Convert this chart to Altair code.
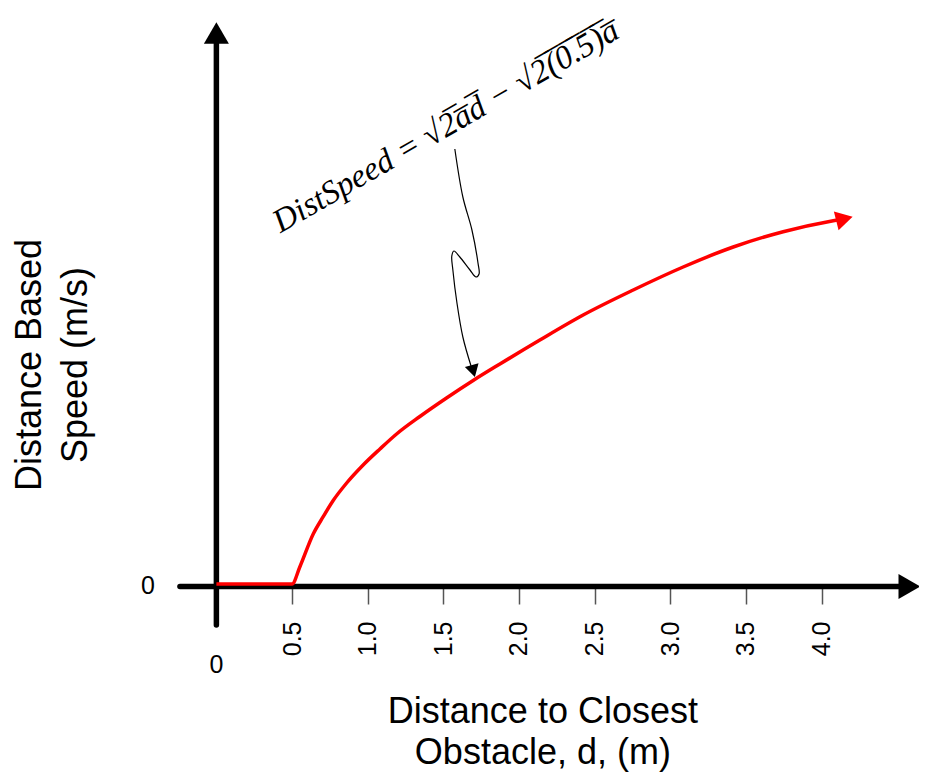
import altair as alt
import pandas as pd

# ---- data ----
# red curve: distance d (m) vs distance-based speed (arbitrary m/s units)
curve_d = [0.0, 0.5, 0.552, 0.640, 0.706, 0.772, 0.861, 0.970, 1.081, 1.191,
           1.345, 1.521, 1.697, 1.874, 2.138, 2.424, 2.755, 3.085, 3.416,
           3.746, 4.077, 4.150]
curve_v = [0.0, 0.0, 0.173, 0.500, 0.673, 0.835, 1.010, 1.190, 1.350, 1.500,
           1.675, 1.860, 2.035, 2.200, 2.440, 2.690, 2.940, 3.170, 3.370,
           3.523, 3.633, 3.652]

# x-axis tick values
tick_values = [0.5, 1.0, 1.5, 2.0, 2.5, 3.0, 3.5, 4.0]

# callout (squiggle leader) from the formula to the curve
callout_x = [1.576, 1.629, 1.689, 1.729, 1.736, 1.716, 1.676, 1.609, 1.570,
             1.556, 1.563, 1.590, 1.629, 1.683]
callout_y = [4.35, 3.87, 3.54, 3.21, 3.10, 3.07, 3.14, 3.27, 3.33,
             3.28, 3.14, 2.81, 2.47, 2.18]

formula_text = "DistSpeed = \u221a2\u0305a\u0305d\u0305 \u2212 \u221a2\u0305(\u0305" \
               "0\u0305.\u03055\u0305)\u0305a\u0305"
x_title = ["Distance to Closest", "Obstacle, d, (m)"]
y_title = ["Distance Based", "Speed (m/s)"]

# ---- scales ----
xs = alt.Scale(domain=[-0.3, 4.591], nice=False, zero=False)
ys = alt.Scale(domain=[0, 5.7], nice=False, zero=False)

curve_df = pd.DataFrame({"x": curve_d, "y": curve_v})
callout_df = pd.DataFrame({"x": callout_x, "y": callout_y,
                           "o": list(range(len(callout_x)))})

# axis lines (black, thick)
axes_df = pd.DataFrame({
    "x": [-0.241, 0.0],
    "x2": [4.55, 0.0],
    "y": [-0.025, -0.41],
    "y2": [-0.025, 5.44],
})

base_x = alt.X("x:Q", scale=xs,
               axis=alt.Axis(values=tick_values, format=".1f", labelAngle=270,
                             title=None, domain=False, grid=False,
                             tickColor="#555555", tickWidth=1.5, tickSize=20,
                             labelPadding=17, labelFontSize=25,
                             labelColor="black", labelFont="Liberation Sans"))
base_y = alt.Y("y:Q", scale=ys, axis=None)

axis_lines = alt.Chart(axes_df).mark_rule(
    color="black", strokeWidth=5.5, strokeCap="round", clip=False
).encode(x=base_x, x2="x2:Q", y=base_y, y2="y2:Q")

curve = alt.Chart(curve_df).mark_line(
    color="#ff0000", strokeWidth=3.5, interpolate="monotone", clip=False
).encode(x=base_x, y=base_y)

callout = alt.Chart(callout_df).mark_line(
    color="black", strokeWidth=1.2, interpolate="catmull-rom", clip=False
).encode(x=base_x, y=base_y, order="o:Q")

# arrow heads
def head(x, y, shape, size, color, angle=0):
    df = pd.DataFrame({"x": [x], "y": [y]})
    return alt.Chart(df).mark_point(
        shape=shape, size=size, filled=True, opacity=1, color=color,
        angle=angle, strokeWidth=0, clip=False
    ).encode(x=base_x, y=base_y)

heads = [
    head(0.0, 5.51, "triangle-up", 625, "black"),
    head(4.58, -0.025, "triangle-right", 625, "black"),
    head(4.151, 3.652, "triangle-right", 380, "#ff0000", 346),
    head(1.698, 2.129, "triangle-down", 200, "black", 345),
]

def text(df, **kw):
    return alt.Chart(df).mark_text(clip=False, **kw).encode(
        x=base_x, y=base_y, text="t:N")

zero_labels = text(pd.DataFrame({"x": [-0.453, 0.0], "y": [-0.02, -0.81],
                                 "t": ["0", "0"]}),
                   font="Liberation Sans", fontSize=25, color="black",
                   align="center", baseline="middle")

xtitle = text(pd.DataFrame({"x": [2.158, 2.158], "y": [-1.28, -1.69],
                            "t": x_title}),
              font="Liberation Sans", fontSize=36, color="black",
              align="center", baseline="middle")

ytitle = text(pd.DataFrame({"x": [-1.233, -0.925], "y": [2.19, 2.19],
                            "t": y_title}),
              font="Liberation Sans", fontSize=36, color="black",
              align="center", baseline="middle", angle=270)

formula = text(pd.DataFrame({"x": [1.55], "y": [4.49], "t": [formula_text]}),
               font="Liberation Serif", fontStyle="italic", fontSize=33,
               color="black", align="center", baseline="alphabetic", angle=330)

chart = alt.layer(
    axis_lines, curve, callout, *heads, zero_labels, xtitle, ytitle, formula
).properties(
    width=740, height=570,
    autosize=alt.AutoSizeParams(type="none"),
    padding={"left": 163, "top": 6, "right": 8, "bottom": 188},
    background="white",
).configure_view(stroke=None)

chart.save("out.html", embed_options={"renderer": "svg", "actions": False})
